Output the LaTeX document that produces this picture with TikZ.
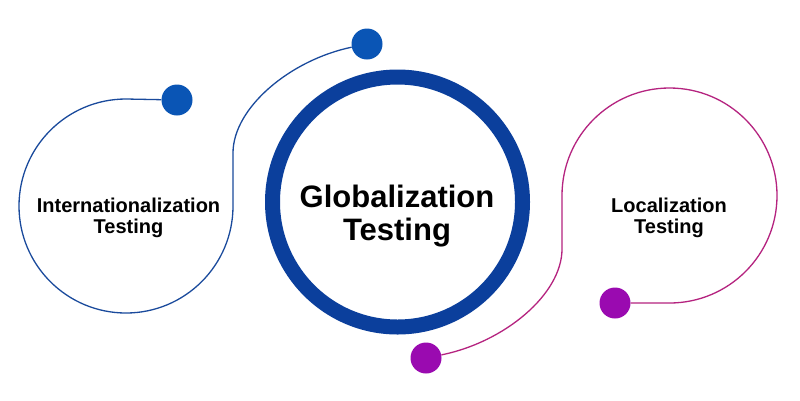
\documentclass[tikz,border=0pt]{standalone}
\usepackage{fontspec}
\setmainfont{Liberation Sans}
\definecolor{ringblue}{HTML}{0B3F9C}
\definecolor{dotblue}{HTML}{0A55B5}
\definecolor{lineblue}{HTML}{1A4A9C}
\definecolor{linepink}{HTML}{B5237F}
\definecolor{dotpurple}{HTML}{9A0AB0}
\tikzset{
  dotnode/.style={circle, minimum size=31pt, inner sep=0pt},
  thinline/.style={line width=1.3pt},
  bigtext/.style={font=\bfseries\fontsize{31}{33.5}\selectfont, align=center, inner sep=0pt},
  smalltext/.style={font=\bfseries\fontsize{20}{21}\selectfont, align=center, inner sep=0pt}
}
\begin{document}
\begin{tikzpicture}[x=1pt,y=-1pt]
\useasboundingbox (0,0) rectangle (800,400);
\fill[white] (0,0) rectangle (800,400);
% big ring
\node[circle, draw=ringblue, line width=15pt, minimum size=250pt, inner sep=0pt] (ring) at (397.5,202) {};
\node[bigtext] (glob) at (397,216) {Globalization\\Testing};
% dots
\node[dotnode, fill=dotblue] (ldot) at (177,100) {};
\node[dotnode, fill=dotblue] (tdot) at (367,44) {};
\node[dotnode, fill=dotpurple] (bdot) at (426,358) {};
\node[dotnode, fill=dotpurple] (rdot) at (615,303) {};
% left loop
\draw[thinline, lineblue] (ldot) -- (126,99)
  arc[start angle=270, end angle=0, radius=107]
  -- (233,153) .. controls (233,108) and (290,60) .. (tdot);
% right loop
\draw[thinline, linepink] (bdot) .. controls (505,342) and (562,294) .. (562,249)
  -- (562,195.5)
  arc[start angle=180, end angle=450, radius=107.5]
  -- (rdot);
\node[smalltext] (intl) at (128.5,217.5) {Internationalization\\Testing};
\node[smalltext] (loc) at (669,217.5) {Localization\\Testing};
\end{tikzpicture}
\end{document}
